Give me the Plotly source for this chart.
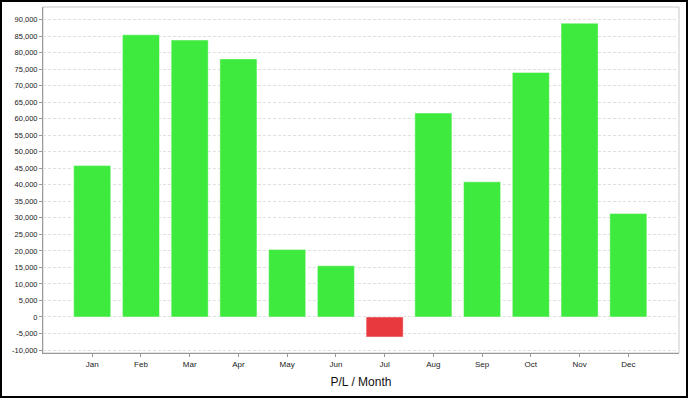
import plotly.graph_objects as go

months = ["Jan", "Feb", "Mar", "Apr", "May", "Jun", "Jul", "Aug", "Sep", "Oct", "Nov", "Dec"]
pl_values = [45800, 85400, 83800, 78100, 20400, 15500, -6050, 61700, 40900, 74000, 88900, 31300]
y_ticks = list(range(-10000, 90001, 5000))
y_tick_labels = [f"{v:,}" for v in y_ticks]

GREEN = "#3dea3d"
RED = "#e8393e"
colors = [GREEN if v >= 0 else RED for v in pl_values]

W, H = 688, 398
L, R, T, B = 43, 9, 7, 45
pw, ph = W - L - R, H - T - B

fig = go.Figure(go.Bar(
    x=months, y=pl_values,
    marker=dict(color=colors, line=dict(color="rgba(255,255,255,0.45)", width=1)),
))

fig.update_layout(
    width=W, height=H,
    margin=dict(l=L, r=R, t=T, b=B, pad=0),
    paper_bgcolor="white", plot_bgcolor="white",
    font=dict(family="Liberation Sans, Arial, sans-serif", color="#222"),
    bargap=0.24,
    showlegend=False,
    shapes=[
        dict(type="rect", xref="paper", yref="paper", x0=0, x1=1, y0=0, y1=1,
             line=dict(color="#c8c8c8", width=1), layer="below"),
        dict(type="rect", xref="paper", yref="paper",
             x0=(-L + 1) / pw, x1=1 + (R - 1) / pw,
             y0=(-B + 1) / ph, y1=1 + (T - 1) / ph,
             line=dict(color="black", width=2)),
    ],
)

fig.update_xaxes(
    type="category", range=[-1.01, 12.04],
    showline=True, linecolor="#9a9a9a", linewidth=1,
    ticks="outside", ticklen=3, tickcolor="#9a9a9a",
    tickfont=dict(size=8, color="#222"),
    showgrid=False, zeroline=False,
    title=dict(text="P/L / Month", font=dict(size=12, color="#111"), standoff=10),
)
fig.update_yaxes(
    range=[-10900, 93800],
    tickvals=y_ticks, ticktext=y_tick_labels,
    showline=True, linecolor="#9a9a9a", linewidth=1,
    ticks="outside", ticklen=3, tickcolor="#9a9a9a",
    tickfont=dict(size=7.5, color="#222"),
    showgrid=True, gridcolor="#e0e0e0", griddash="3px,2px", gridwidth=1,
    zeroline=False,
)

fig.write_html(
    "out.html",
    config={"displayModeBar": False},
    post_script="document.body.style.margin='0';document.body.style.padding='0';",
)
